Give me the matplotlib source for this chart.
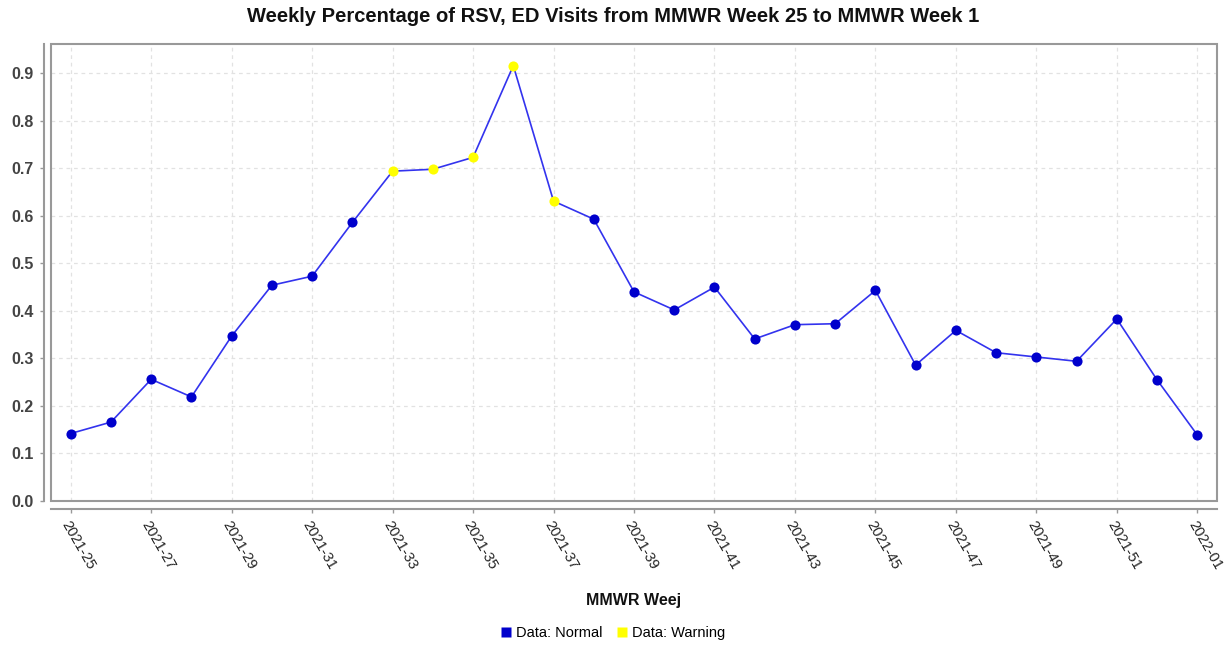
import matplotlib
matplotlib.use("Agg")
import matplotlib.pyplot as plt
from matplotlib.patches import Rectangle
from matplotlib.lines import Line2D

weeks = ["2021-25", "2021-26", "2021-27", "2021-28", "2021-29", "2021-30", "2021-31",
         "2021-32", "2021-33", "2021-34", "2021-35", "2021-36", "2021-37", "2021-38",
         "2021-39", "2021-40", "2021-41", "2021-42", "2021-43", "2021-44", "2021-45",
         "2021-46", "2021-47", "2021-48", "2021-49", "2021-50", "2021-51", "2021-52",
         "2022-01"]
values = [0.142, 0.166, 0.256, 0.219, 0.347, 0.454, 0.473, 0.586, 0.694, 0.698,
          0.723, 0.916, 0.631, 0.593, 0.440, 0.402, 0.450, 0.341, 0.371, 0.373,
          0.443, 0.286, 0.359, 0.312, 0.303, 0.294, 0.383, 0.255, 0.139]
status = ["Normal"] * 8 + ["Warning"] * 5 + ["Normal"] * 16

title = "Weekly Percentage of RSV, ED Visits from MMWR Week 25 to MMWR Week 1"
xlabel = "MMWR Weej"
yticks = [0.0, 0.1, 0.2, 0.3, 0.4, 0.5, 0.6, 0.7, 0.8, 0.9]

NORMAL = "#0000CC"
WARN = "#FFFF00"
LINE = "#3333EE"
FRAME = "#999999"

fig = plt.figure(figsize=(12.31, 6.45), dpi=100)
ax = fig.add_axes([51 / 1231, 1 - 501 / 645, (1217 - 51) / 1231, (501 - 44) / 645])

for side in ["top", "right"]:
    ax.spines[side].set_visible(False)
ax.spines["left"].set_position(("outward", 5.2))
ax.spines["bottom"].set_position(("outward", 5.8))
for side in ["left", "bottom"]:
    ax.spines[side].set_color(FRAME)
    ax.spines[side].set_linewidth(1.5)
ax.add_patch(Rectangle((0, 0), 1, 1, transform=ax.transAxes, fill=False,
                       ec=FRAME, lw=1.5, zorder=5, clip_on=False))

x = list(range(len(weeks)))
ax.plot(x, values, color=LINE, lw=1.2, zorder=3)
for xi, v, s in zip(x, values, status):
    ax.plot(xi, v, "o", ms=7.3, mec="none",
            mfc=NORMAL if s == "Normal" else WARN, zorder=4)

ax.set_xlim(-0.49, len(weeks) - 1 + 0.49)
ax.set_ylim(0, (501.7 - 44) / 476)

ax.tick_params(axis="both", length=3, width=1, color=FRAME)
ax.tick_params(axis="x", pad=4)
ax.tick_params(axis="y", pad=4)

tick_pos = x[::2]
ax.set_xticks(tick_pos)
ax.set_xticklabels([weeks[i] for i in tick_pos], rotation=-60, ha="left",
                   va="top", rotation_mode="anchor",
                   family="Liberation Sans", fontsize=10.5, color="#222222")
ax.set_yticks(yticks)
ax.set_yticklabels([f"{t:.1f}" for t in yticks], family="Liberation Sans",
                   fontweight="bold", fontsize=11.5, color="#444444")

ax.grid(True, color="#e2e2e2", ls=(0, (3, 3)), lw=0.9)
ax.set_axisbelow(True)

fig.text(613 / 1231, 1 - 17 / 645, title, ha="center", va="center",
         family="Liberation Sans", fontweight="bold", fontsize=14.5, color="#111111")
fig.text(634 / 1231, 1 - 601 / 645, xlabel, ha="center", va="center",
         family="Liberation Sans", fontweight="bold", fontsize=11.5, color="#111111")

handles = [Line2D([], [], ls="none", marker="s", ms=7, mfc=NORMAL, mec="none"),
           Line2D([], [], ls="none", marker="s", ms=7, mfc=WARN, mec="none")]
fig.legend(handles, ["Data: Normal", "Data: Warning"], loc="center",
           bbox_to_anchor=(612 / 1231, 1 - 633 / 645), ncol=2, frameon=False,
           prop={"family": "Liberation Sans", "size": 10.5},
           handletextpad=0.2, columnspacing=0.8, handlelength=1.0)

fig.savefig("out.png", dpi=100)
